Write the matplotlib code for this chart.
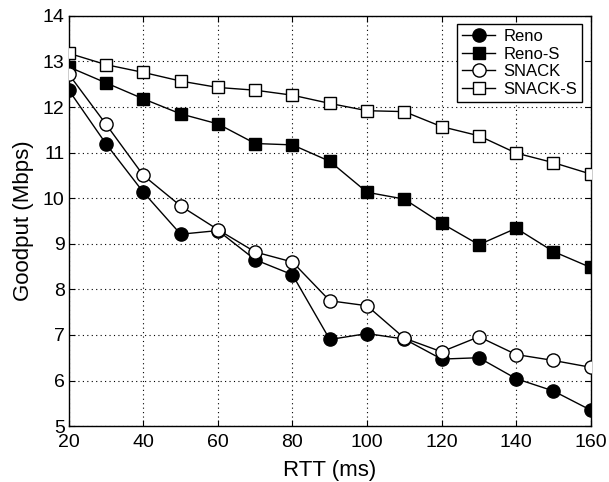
import numpy as np
import matplotlib.pyplot as plt

rtt = [20, 30, 40, 50, 60, 70, 80, 90, 100, 110, 120, 130, 140, 150, 160]
reno = [12.37, 11.19, 10.13, 9.21, 9.29, 8.65, 8.32, 6.90, 7.03, 6.91, 6.47, 6.50, 6.04, 5.77, 5.35]
reno_s = [12.88, 12.53, 12.18, 11.85, 11.63, 11.20, 11.17, 10.81, 10.13, 9.98, 9.45, 8.98, 9.34, 8.83, 8.48]
snack = [12.72, 11.62, 10.50, 9.83, 9.31, 8.82, 8.60, 7.75, 7.64, 6.93, 6.63, 6.96, 6.57, 6.44, 6.29]
snack_s = [13.18, 12.93, 12.76, 12.57, 12.43, 12.37, 12.26, 12.08, 11.92, 11.90, 11.57, 11.37, 10.99, 10.78, 10.53]

plt.rcParams['font.family'] = ['Liberation Sans', 'DejaVu Sans']

fig = plt.figure(figsize=(6.09, 4.82), dpi=100)
ax = fig.add_axes([0.113, 0.116, 0.857, 0.851])

ms = 9.5
ax.plot(rtt, reno, 'k-o', lw=1, ms=ms, mfc='k', label='Reno', zorder=3)
ax.plot(rtt, reno_s, 'k-s', lw=1, ms=ms - 1, mfc='k', label='Reno-S', zorder=3)
ax.plot(rtt, snack, 'k-o', lw=1, ms=ms, mfc='w', label='SNACK', zorder=4)
ax.plot(rtt, snack_s, 'k-s', lw=1, ms=ms - 1, mfc='w', label='SNACK-S', zorder=4)

ax.set_xlim(20, 160)
ax.set_ylim(5, 14)
ax.set_xticks(np.arange(20, 161, 20))
ax.set_yticks(np.arange(5, 15, 1))
ax.grid(True, color='k', linestyle=(0, (1, 3)), linewidth=0.8)
ax.tick_params(direction='in', labelsize=14, length=4, top=True, right=True, pad=3)
ax.tick_params(axis='x', pad=6)
for s in ax.spines.values():
    s.set_linewidth(1)

ax.set_xlabel('RTT (ms)', fontsize=16, labelpad=6)
ax.set_ylabel('Goodput (Mbps)', fontsize=16, labelpad=6)

leg = ax.legend(loc='upper right', fontsize=12, fancybox=False, framealpha=1,
                edgecolor='k', handlelength=2.0, borderpad=0.3, labelspacing=0.15,
                handletextpad=0.5, borderaxespad=0.5)
leg.get_frame().set_linewidth(1)

fig.savefig('out.png', dpi=100)
